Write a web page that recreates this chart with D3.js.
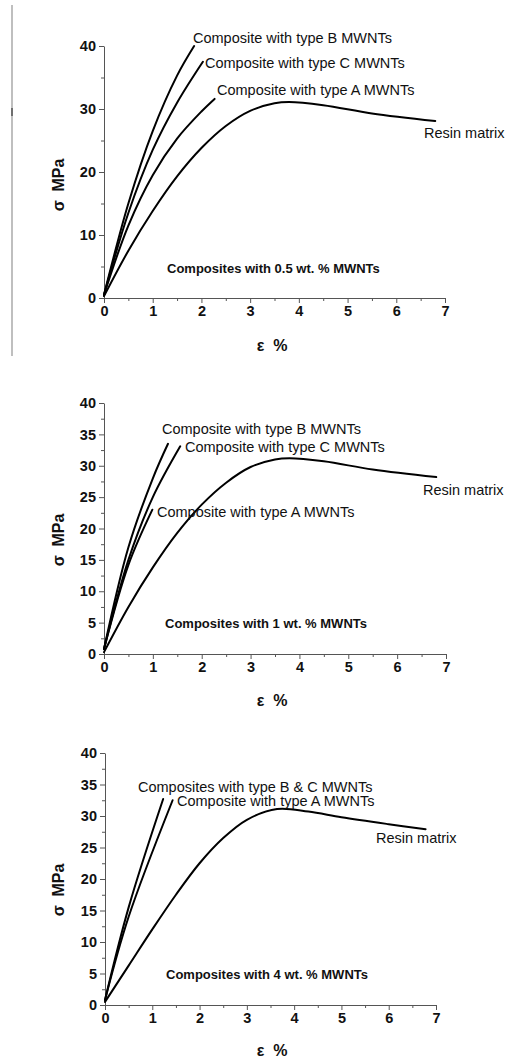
<!DOCTYPE html>
<html><head><meta charset="utf-8">
<script src="https://cdn.jsdelivr.net/npm/d3@7"></script>
<style>
html,body{margin:0;padding:0;background:#fff;}
svg{display:block;}
text{font-family:"Liberation Sans",Arial,sans-serif;fill:#111;}
</style></head>
<body>
<script>
// ---- data (strain %, stress MPa) ----
const strainTicks = [0,1,2,3,4,5,6,7];
const strainMinor = [0.5,1.5,2.5,3.5,4.5,5.5,6.5];
const stressTicksTop = [0,10,20,30,40];
const stressMinorTop = [5,15,25,35];
const stressTicks = [0,5,10,15,20,25,30,35,40];
const stressMinor = [2.5,7.5,12.5,17.5,22.5,27.5,32.5,37.5];

// panel 1: 0.5 wt.%
const p1TypeB = [[0,0.5],[0.5,15],[1.0,26.5],[1.5,35.3],[1.85,40]];
const p1TypeC = [[0,0.5],[0.5,13.5],[1.0,23.5],[1.5,31],[2.03,37.5]];
const p1TypeA = [[0,0.5],[0.5,11.5],[1.0,19.5],[1.5,25.3],[2.0,29.6],[2.27,31.6]];
const p1Resin = [[0,0.3],[0.5,7.5],[1,13.8],[1.5,19.3],[2,23.8],[2.5,27.3],[3,29.7],[3.5,30.9],[3.8,31.1],[4.5,30.6],[5.5,29.3],[6.8,28.1]];
// panel 2: 1 wt.%
const p2TypeB = [[0,0.8],[0.5,17],[1.0,28],[1.31,33.5]];
const p2TypeC = [[0,0.8],[0.5,15],[1.0,25],[1.56,33.1]];
const p2TypeA = [[0,0.8],[0.5,14.2],[0.99,23]];
const p2Resin = [[0,0.3],[0.5,7.5],[1,13.8],[1.5,19.3],[2,23.8],[2.5,27.3],[3,29.8],[3.5,31],[3.8,31.2],[4.5,30.7],[5.5,29.4],[6.8,28.2]];
// panel 3: 4 wt.%
const p3TypeBC = [[0,0.8],[0.5,15.5],[1.23,32.7]];
const p3TypeA = [[0,0.8],[0.5,14],[1.43,32.5]];
const p3Resin = [[0,0.5],[0.5,6.25],[1,12],[1.5,17.5],[2,22.5],[2.5,26.5],[3,29.4],[3.64,31.1],[4.3,30.7],[5,29.8],[6,28.7],[6.78,27.9]];

const W = 505, H = 1062;
const svg = d3.select("body").append("svg").attr("width",W).attr("height",H);

// scan artifact line at left of first panel
svg.append("line").attr("x1",12).attr("x2",12).attr("y1",5).attr("y2",356)
  .attr("stroke","#aaa").attr("stroke-width",1.5);
svg.append("line").attr("x1",12).attr("x2",12).attr("y1",108).attr("y2",116)
  .attr("stroke","#555").attr("stroke-width",1.5);

const panels = [
  {x0:104,x1:445,y0:298,y1:46, yt:stressTicksTop, ym:stressMinorTop,
   series:[p1TypeB,p1TypeC,p1TypeA,p1Resin],
   labels:[["Composite with type B MWNTs",193,38],["Composite with type C MWNTs",205,63],
           ["Composite with type A MWNTs",217,90],["Resin matrix",424,133]],
   caption:["Composites with 0.5 wt. % MWNTs",167,268], ylab:185, xlab:345},
  {x0:104,x1:446,y0:654,y1:403, yt:stressTicks, ym:stressMinor,
   series:[p2TypeB,p2TypeC,p2TypeA,p2Resin],
   labels:[["Composite with type B MWNTs",162,429],["Composite with type C MWNTs",185,447],
           ["Composite with type A MWNTs",157,512],["Resin matrix",423,490]],
   caption:["Composites with 1 wt. % MWNTs",165,623], ylab:540, xlab:700},
  {x0:105,x1:436,y0:1005,y1:753, yt:stressTicks, ym:stressMinor,
   series:[p3TypeBC,p3TypeA,p3Resin],
   labels:[["Composites with type B & C MWNTs",138,787],["Composite with type A MWNTs",177,801],
           ["Resin matrix",376,838]],
   caption:["Composites with 4 wt. % MWNTs",166,974], ylab:890, xlab:1050}
];

panels.forEach(p=>{
  const x = d3.scaleLinear().domain([0,7]).range([p.x0,p.x1]);
  const y = d3.scaleLinear().domain([0,40]).range([p.y0,p.y1]);
  const g = svg.append("g");

  // minor ticks
  g.append("g").attr("transform",`translate(0,${p.y0})`)
    .call(d3.axisBottom(x).tickValues(strainMinor).tickSize(3).tickFormat(""))
    .call(a=>a.select(".domain").remove());
  g.append("g").attr("transform",`translate(${p.x0},0)`)
    .call(d3.axisLeft(y).tickValues(p.ym).tickSize(3).tickFormat(""))
    .call(a=>a.select(".domain").remove());
  // major axes
  const xa = g.append("g").attr("transform",`translate(0,${p.y0})`)
    .call(d3.axisBottom(x).tickValues(strainTicks).tickSize(5).tickSizeOuter(0).tickPadding(3).tickFormat(d3.format("d")));
  const ya = g.append("g").attr("transform",`translate(${p.x0},0)`)
    .call(d3.axisLeft(y).tickValues(p.yt).tickSize(5).tickSizeOuter(0).tickPadding(3).tickFormat(d3.format("d")));
  g.selectAll(".tick line").attr("stroke","#555");
  g.selectAll(".domain").attr("stroke","#555");
  [xa,ya].forEach(a=>a.selectAll("text").attr("font-size",14.5).attr("font-weight","bold")
    .attr("font-family","'Liberation Sans',Arial,sans-serif").attr("fill","#111"));

  // curves
  const line = d3.line().x(d=>x(d[0])).y(d=>y(d[1])).curve(d3.curveCatmullRom.alpha(0.5));
  p.series.forEach(s=>{
    g.append("path").attr("d",line(s)).attr("fill","none").attr("stroke","#000")
      .attr("stroke-width",2).attr("stroke-linecap","round");
  });

  // annotations
  p.labels.forEach(l=>{
    g.append("text").attr("x",l[1]).attr("y",l[2]).attr("dy","0.35em")
      .attr("font-size",14.5).text(l[0]);
  });
  g.append("text").attr("x",p.caption[1]).attr("y",p.caption[2]).attr("dy","0.35em")
    .attr("font-size",13).attr("font-weight","bold").text(p.caption[0]);

  // axis titles
  g.append("text").attr("transform",`translate(58,${p.ylab}) rotate(-90)`)
    .attr("text-anchor","middle").attr("dy","0.35em")
    .attr("font-size",16).attr("font-weight","bold").attr("xml:space","preserve")
    .text("σ  MPa");
  g.append("text").attr("x",272).attr("y",p.xlab).attr("dy","0.35em")
    .attr("text-anchor","middle").attr("font-size",16).attr("font-weight","bold")
    .attr("xml:space","preserve").text("ε  %");
});
</script>
</body></html>
